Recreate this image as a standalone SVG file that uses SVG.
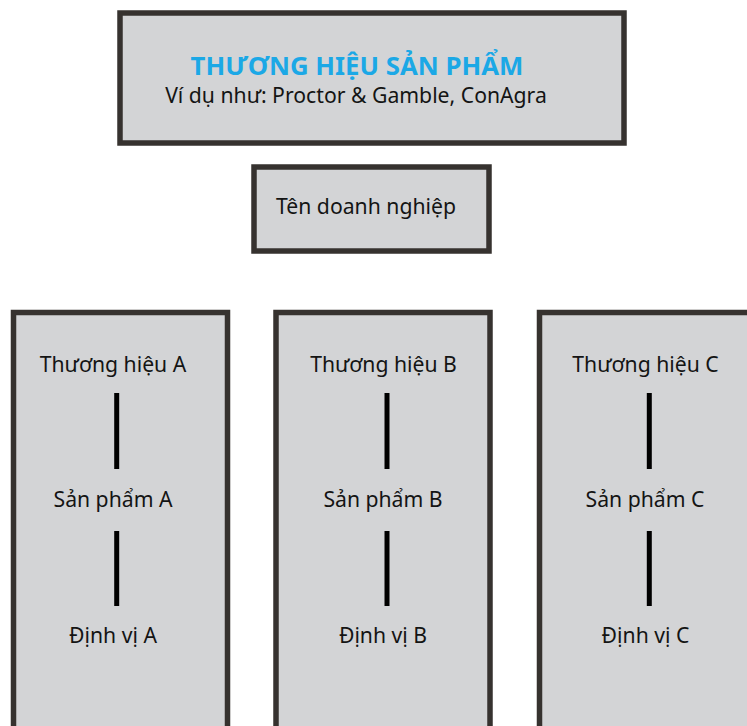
<svg xmlns="http://www.w3.org/2000/svg" width="747" height="726" viewBox="0 0 747 726">
  <style>
    .box { fill: #d3d4d6; stroke: #36322f; stroke-width: 5.5; }
    .lbl { font-family: "Noto Sans", "Open Sans", sans-serif; font-size: 21.2px; fill: #141414; text-anchor: middle; }
    .ttl { font-family: "Noto Sans", "Open Sans", sans-serif; font-size: 25.8px; font-weight: bold; fill: #1ba8e6; text-anchor: middle; }
    .link { stroke: #000; stroke-width: 5; fill: none; }
  </style>
  <rect width="747" height="726" fill="#ffffff"/>

  <g id="brand-header">
    <rect class="box" x="120" y="13" width="504" height="130" stroke-width="6"/>
    <text class="ttl" x="357" y="75">THƯƠNG HIỆU SẢN PHẨM</text>
    <text class="lbl" x="356" y="103">Ví dụ như: Proctor &amp; Gamble, ConAgra</text>
  </g>

  <g id="company-name">
    <rect class="box" x="254" y="167" width="235" height="84"/>
    <text class="lbl" x="366" y="214">Tên doanh nghiệp</text>
  </g>

  <g id="column-a">
    <rect class="box" x="13.5" y="312.5" width="214" height="430"/>
    <text class="lbl" x="113" y="372">Thương hiệu A</text>
    <text class="lbl" x="113" y="507">Sản phẩm A</text>
    <text class="lbl" x="113" y="643">Định vị A</text>
  </g>

  <g id="column-b">
    <rect class="box" x="276" y="312.5" width="214" height="430"/>
    <text class="lbl" x="383.5" y="372">Thương hiệu B</text>
    <text class="lbl" x="383" y="507">Sản phẩm B</text>
    <text class="lbl" x="383" y="643">Định vị B</text>
  </g>

  <g id="column-c">
    <rect class="box" x="539.5" y="312.5" width="214" height="430"/>
    <text class="lbl" x="645.5" y="372">Thương hiệu C</text>
    <text class="lbl" x="645" y="507">Sản phẩm C</text>
    <text class="lbl" x="645.5" y="643">Định vị C</text>
  </g>

  <g id="connectors">
    <line class="link" x1="116.7" y1="393" x2="116.7" y2="469"/>
    <line class="link" x1="116.7" y1="531" x2="116.7" y2="606"/>
    <line class="link" x1="387" y1="393" x2="387" y2="469"/>
    <line class="link" x1="387" y1="531" x2="387" y2="606"/>
    <line class="link" x1="649.3" y1="393" x2="649.3" y2="469"/>
    <line class="link" x1="649.3" y1="531" x2="649.3" y2="606"/>
  </g>
</svg>
